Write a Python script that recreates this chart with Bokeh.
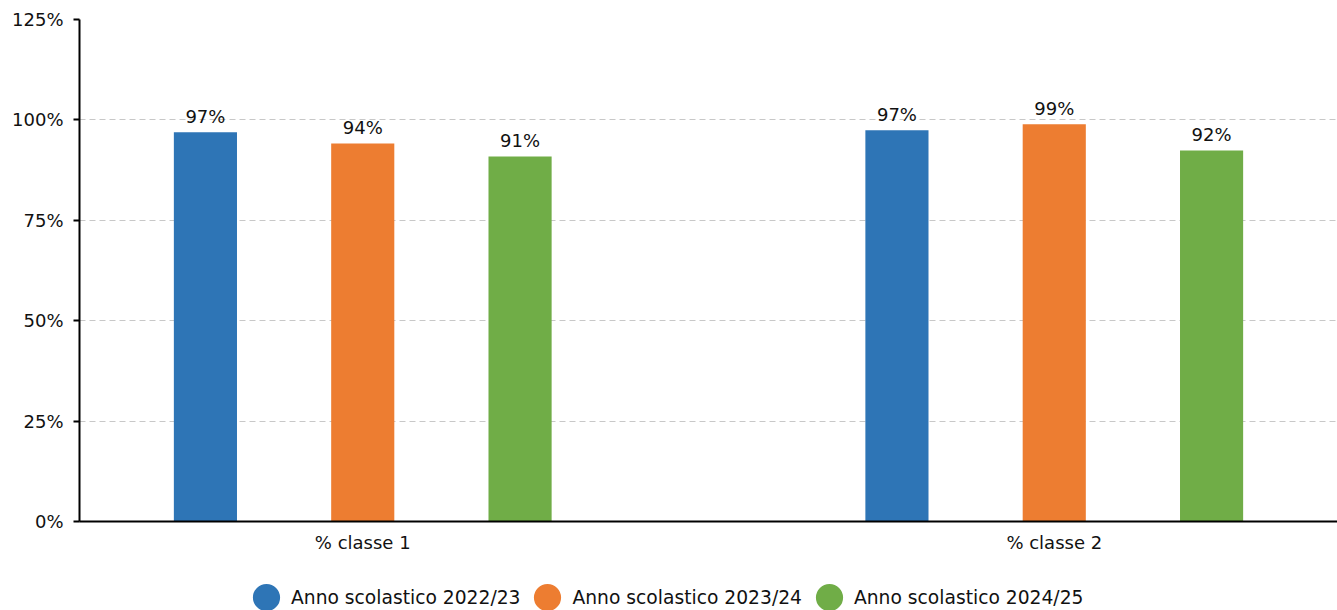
from bokeh.plotting import figure
from bokeh.layouts import column
from bokeh.models import (ColumnDataSource, FactorRange, Range1d, Legend, LegendItem,
                          FixedTicker, PrintfTickFormatter)
from bokeh.transform import dodge
from bokeh.core.properties import value
from bokeh.embed import file_html
from bokeh.resources import INLINE

# ---- data ----
categories = ["% classe 1", "% classe 2"]
series = ["Anno scolastico 2022/23", "Anno scolastico 2023/24", "Anno scolastico 2024/25"]
values_2022_23 = [96.9, 97.4]
values_2023_24 = [94.1, 98.9]
values_2024_25 = [90.9, 92.4]
y_ticks = [0, 25, 50, 75, 100, 125]

# ---- style ----
colors = ["#2E75B6", "#ED7D31", "#70AD47"]
offsets = [-0.2275, 0.0, 0.2275]
bar_width = 0.0913
FONT = "DejaVu Sans"
TXT = "#111111"

p = figure(
    x_range=FactorRange(factors=categories, range_padding=-0.0904, range_padding_units="absolute"),
    y_range=Range1d(0, 125),
    width=1337, height=580,
    output_backend="svg", toolbar_location=None,
    min_border_left=79, min_border_top=19, min_border_bottom=59, min_border_right=0,
)
p.outline_line_color = None

all_values = [values_2022_23, values_2023_24, values_2024_25]
for name, vals, color, off in zip(series, all_values, colors, offsets):
    src = ColumnDataSource(dict(cat=categories, val=vals,
                                lbl=[f"{round(v)}%" for v in vals]))
    xpos = dodge("cat", off, range=p.x_range)
    p.vbar(x=xpos, top="val", width=bar_width, source=src,
           fill_color=color, line_color=None)
    p.text(x=xpos, y="val", text="lbl", source=src,
           text_align="center", text_baseline="alphabetic", y_offset=-16,
           text_font=value(FONT), text_font_size="18px", text_color=TXT)

# y axis
p.yaxis.ticker = FixedTicker(ticks=y_ticks)
p.yaxis.formatter = PrintfTickFormatter(format="%d%%")
p.yaxis.major_tick_out = 6
p.yaxis.major_tick_in = 0
p.yaxis.minor_tick_line_color = None
p.yaxis.axis_line_width = 2
p.yaxis.axis_line_color = "black"
p.yaxis.major_tick_line_width = 2
p.yaxis.major_tick_line_color = "black"
p.yaxis.major_label_standoff = 10
p.yaxis.major_label_text_font = FONT
p.yaxis.major_label_text_font_size = "18px"
p.yaxis.major_label_text_color = TXT

# x axis
p.xaxis.axis_line_width = 2
p.xaxis.axis_line_color = "black"
p.xaxis.major_tick_out = 0
p.xaxis.major_tick_in = 0
p.xaxis.major_tick_line_color = None
p.xaxis.major_label_standoff = 10
p.xaxis.major_label_text_font = FONT
p.xaxis.major_label_text_font_size = "18px"
p.xaxis.major_label_text_color = TXT

# grid
p.xgrid.grid_line_color = None
p.ygrid.ticker = FixedTicker(ticks=y_ticks)
p.ygrid.grid_line_color = "#c8c8c8"
p.ygrid.grid_line_dash = "6 4"
p.ygrid.grid_line_width = 1

# ---- legend strip below the chart ----
lg = figure(width=1337, height=30, x_range=Range1d(0, 1), y_range=Range1d(0, 1),
            x_axis_type=None, y_axis_type=None,
            output_backend="svg", toolbar_location=None,
            min_border_left=0, min_border_right=0, min_border_top=0, min_border_bottom=0)
lg.outline_line_color = None
lg.grid.visible = False
nan = float("nan")
legend_items = []
for name, color in zip(series, colors):
    # legend key only (round dot); no visible data point
    r = lg.ellipse(x=[nan], y=[nan], width=27, height=27,
                   width_units="screen", height_units="screen",
                   fill_color=color, line_color=None)
    legend_items.append(LegendItem(label=name, renderers=[r]))
legend = Legend(items=legend_items, orientation="horizontal", location=(170, -4),
                glyph_width=34, glyph_height=34, label_standoff=8, spacing=10,
                padding=0, margin=0, border_line_color=None, background_fill_alpha=0,
                label_text_font=FONT, label_text_font_size="18.7px",
                label_text_color=TXT)
lg.add_layout(legend)

layout = column(p, lg, spacing=0)
open("out.html", "w").write(file_html(layout, INLINE))
